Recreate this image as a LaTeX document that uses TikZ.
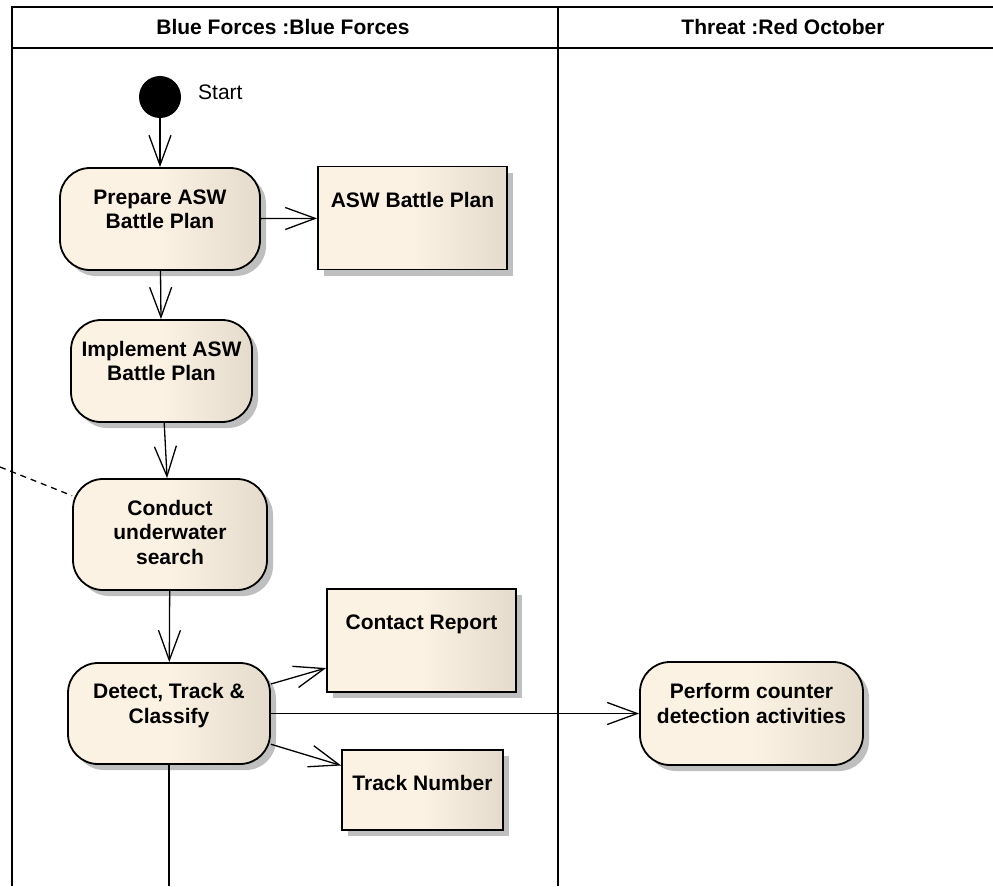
\documentclass[tikz,border=0pt]{standalone}
\usepackage{fontspec}
\setmainfont{Liberation Sans}
\usetikzlibrary{arrows.meta,shadows}

\definecolor{actlight}{RGB}{251,242,228}
\definecolor{actdark}{RGB}{228,219,204}

\begin{document}
\begin{tikzpicture}[x=1pt, y=-1pt, >={Straight Barb[length=30pt,width=22pt]},
  lbl/.style={font=\fontsize{21}{24.5}\selectfont\bfseries, align=center},
  action/.style={lbl, draw, line width=1.8pt, rounded corners=30pt, inner sep=0pt,
    left color=actlight, right color=actdark, middle color=actlight,
    drop shadow={shadow xshift=6pt, shadow yshift=-6pt, fill=black!25, opacity=1},
    text depth=20pt},
  object/.style={action, sharp corners, text height=15pt},
  flow/.style={->, line width=1.3pt},
  frame/.style={line width=2pt}]
  \useasboundingbox (0,0) rectangle (993,886);

  % Swimlane frame
  \coordinate (tl) at (12,7);
  \coordinate (bl) at (12,886);
  \coordinate (tr) at (993,7);
  \coordinate (lanetop) at (558,7);
  \coordinate (lanebot) at (558,886);
  \draw[frame] (bl) -- (tl) -- (tr);
  \draw[frame] (12,48) -- (993,48);
  \draw[frame] (lanetop) -- (lanebot);
  \node[lbl] (bluehead) at (283,27) {Blue Forces :Blue Forces};
  \node[lbl] (redhead) at (783,27) {Threat :Red October};

  % Blue Forces lane
  \node[circle, fill=black, minimum size=42pt, inner sep=0pt] (start) at (160,97) {};
  \node[font=\fontsize{21}{24}\selectfont, anchor=west, inner sep=0pt] (startlbl) at (198,92) {Start};
  \node[action, minimum width=200pt, minimum height=102pt] (prep) at (160,219) {Prepare ASW\\Battle Plan};
  \node[object, minimum width=189pt, minimum height=103pt, text depth=37pt] (plan) at (412.5,218) {ASW Battle Plan};
  \node[action, minimum width=181pt, minimum height=102pt] (impl) at (161.5,371) {Implement ASW\\Battle Plan};
  \node[action, minimum width=194pt, minimum height=111pt, text depth=5pt] (search) at (170,534.5) {Conduct\\underwater\\search};
  \node[action, minimum width=202pt, minimum height=101pt] (detect) at (169,713.5) {Detect, Track \&\\Classify};
  \node[object, minimum width=189pt, minimum height=103pt, text depth=38pt] (contact) at (421.5,640.5) {Contact Report};
  \node[object, minimum width=161pt, minimum height=80pt, text depth=15pt] (track) at (422.5,790) {Track Number};

  % Threat lane
  \node[action, minimum width=223pt, minimum height=103pt] (counter) at (751.5,713.5) {Perform counter\\detection activities};

  % Flows
  \coordinate (notelink) at (0,467);
  \coordinate (flowend) at (169,886);
  \draw[flow] (start) -- (prep);
  \draw[flow] (prep) -- (plan);
  \draw[flow] (prep) -- (impl);
  \draw[flow] (impl) -- (search);
  \draw[flow] (search) -- (detect);
  \draw[flow] (detect) -- (contact);
  \draw[flow] (detect) -- (track);
  \draw[flow] (detect) -- (counter);
  \draw[line width=1.3pt] (detect) -- (flowend);
  \draw[line width=1.3pt, dash pattern=on 6pt off 5pt] (notelink) -- (search);
\end{tikzpicture}
\end{document}
